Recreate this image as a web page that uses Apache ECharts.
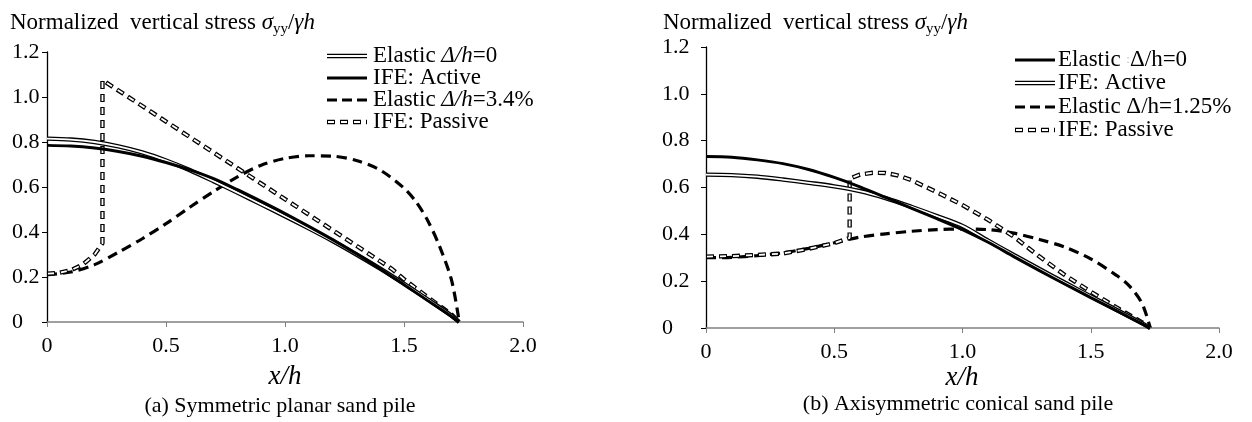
<!DOCTYPE html>
<html>
<head>
<meta charset="utf-8">
<script src="https://cdn.jsdelivr.net/npm/echarts@6/dist/echarts.min.js"></script>
<style>
  html, body { margin: 0; padding: 0; background: #fff; }
  #chart { width: 1252px; height: 422px; }
</style>
</head>
<body>
<div id="chart"></div>
<script>
// ---- Data: normalized vertical stress under sand piles ----
const xTickValues = [0, 0.5, 1.0, 1.5, 2.0];
const yTickValues = [0, 0.2, 0.4, 0.6, 0.8, 1.0, 1.2];

// (a) symmetric planar sand pile
const planarX        = [0, 0.1, 0.2, 0.3, 0.4, 0.5, 0.6, 0.7, 0.8, 0.9, 1.0, 1.1, 1.2, 1.3, 1.4, 1.5, 1.6, 1.7, 1.732];
const planarElastic0 = [0.815, 0.811, 0.800, 0.781, 0.754, 0.718, 0.675, 0.626, 0.575, 0.523, 0.470, 0.416, 0.360, 0.300, 0.237, 0.170, 0.100, 0.028, 0];
const planarActive   = [0.785, 0.782, 0.773, 0.758, 0.737, 0.709, 0.676, 0.637, 0.588, 0.536, 0.482, 0.425, 0.366, 0.303, 0.236, 0.166, 0.095, 0.024, 0];
const planarShiftX   = [0, 0.1, 0.2, 0.3, 0.4, 0.5, 0.6, 0.7, 0.8, 0.9, 1.0, 1.1, 1.2, 1.3, 1.4, 1.5, 1.55, 1.6, 1.65, 1.7, 1.732];
const planarShift    = [0.210, 0.222, 0.255, 0.310, 0.370, 0.437, 0.510, 0.580, 0.645, 0.697, 0.727, 0.739, 0.737, 0.718, 0.675, 0.595, 0.535, 0.450, 0.335, 0.185, 0];
const planarPassiveX = [0, 0.05, 0.1, 0.15, 0.2, 0.233, 0.233, 0.4, 0.6, 0.8, 1.0, 1.2, 1.4, 1.45, 1.5, 1.6, 1.7, 1.732];
const planarPassive  = [0.215, 0.218, 0.230, 0.255, 0.300, 0.350, 1.075, 0.960, 0.822, 0.684, 0.546, 0.408, 0.270, 0.235, 0.190, 0.110, 0.033, 0];

// (b) axisymmetric conical sand pile
const conicalX        = [0, 0.1, 0.2, 0.3, 0.4, 0.5, 0.6, 0.7, 0.8, 0.9, 1.0, 1.1, 1.2, 1.3, 1.4, 1.5, 1.6, 1.7, 1.732];
const conicalElastic0 = [0.732, 0.729, 0.718, 0.702, 0.677, 0.643, 0.603, 0.558, 0.512, 0.467, 0.420, 0.366, 0.305, 0.245, 0.187, 0.130, 0.074, 0.018, 0];
const conicalActive   = [0.655, 0.653, 0.646, 0.634, 0.620, 0.605, 0.585, 0.555, 0.518, 0.478, 0.436, 0.373, 0.312, 0.252, 0.193, 0.135, 0.078, 0.020, 0];
const conicalShiftX   = [0, 0.1, 0.2, 0.3, 0.4, 0.5, 0.6, 0.7, 0.8, 0.9, 1.0, 1.1, 1.2, 1.3, 1.4, 1.5, 1.6, 1.65, 1.7, 1.732];
const conicalShift    = [0.300, 0.302, 0.309, 0.321, 0.340, 0.364, 0.388, 0.402, 0.413, 0.420, 0.423, 0.420, 0.405, 0.378, 0.345, 0.295, 0.225, 0.180, 0.105, 0];
const conicalPassiveX = [0, 0.1, 0.2, 0.3, 0.4, 0.5, 0.56, 0.56, 0.6, 0.65, 0.7, 0.75, 0.8, 0.9, 1.0, 1.1, 1.2, 1.3, 1.4, 1.5, 1.6, 1.7, 1.732];
const conicalPassive  = [0.305, 0.307, 0.312, 0.318, 0.338, 0.362, 0.385, 0.638, 0.655, 0.663, 0.662, 0.651, 0.632, 0.580, 0.525, 0.462, 0.390, 0.305, 0.225, 0.155, 0.088, 0.024, 0];

// ---- Styling helpers ----
const FONT = 'Liberation Serif';
const pairs = (xs, ys) => xs.map((x, i) => [x, ys[i]]);
const base = (g, xs, ys, smooth) => ({
  type: 'line', xAxisIndex: g, yAxisIndex: g, data: pairs(xs, ys),
  smooth: smooth, symbol: 'none', silent: true, animation: false
});
function solidLine(g, xs, ys) {
  return [Object.assign(base(g, xs, ys, 0.3), { lineStyle: { color: '#000', width: 3 } })];
}
function dashedLine(g, xs, ys) {
  return [Object.assign(base(g, xs, ys, 0.3), { lineStyle: { color: '#000', width: 3.2, type: [10, 6] } })];
}
// double-stroke line: black casing with a thin white core
function hollowLine(g, xs, ys, dashed, smooth) {
  return [
    Object.assign(base(g, xs, ys, smooth), {
      lineStyle: { color: '#000', width: 4.4, type: dashed ? [8, 5] : 'solid' }
    }),
    Object.assign(base(g, xs, ys, smooth), {
      lineStyle: { color: '#fff', width: 1.8, type: dashed ? [6, 7] : 'solid', dashOffset: dashed ? -1 : 0 }
    })
  ];
}

const tickFmt = v => (v === 0 ? '0' : v.toFixed(1));
function xAxisOf(g) {
  return {
    type: 'value', gridIndex: g, min: 0, max: 2, interval: 0.5,
    axisLine: { show: true, lineStyle: { color: '#808080', width: 1.5 } },
    axisTick: { show: true, length: 5, lineStyle: { color: '#808080' } },
    splitLine: { show: false },
    axisLabel: { formatter: tickFmt, color: '#000', fontFamily: FONT, fontSize: 22, margin: 13 }
  };
}
function yAxisOf(g, labelMargin) {
  return {
    type: 'value', gridIndex: g, min: 0, max: 1.2, interval: 0.2,
    axisLine: { show: true, lineStyle: { color: '#000', width: 1.3 } },
    axisTick: { show: true, length: 5, lineStyle: { color: '#000' } },
    splitLine: { show: false },
    axisLabel: { formatter: tickFmt, color: '#000', fontFamily: FONT, fontSize: 22,
                 align: 'left', margin: labelMargin }
  };
}

// ---- Legend & annotation drawing ----
function legendSwatch(kind, x, y, len) {
  const seg = (stroke, w, dash, off) => ({
    type: 'line', silent: true,
    shape: { x1: x, y1: y, x2: x + len, y2: y },
    style: { stroke: stroke, lineWidth: w, lineDash: dash || null, lineDashOffset: off || 0 }
  });
  if (kind === 'solid') return [seg('#000', 3)];
  if (kind === 'dashed') return [seg('#000', 3.2, [10, 5])];
  if (kind === 'hollow') return [seg('#000', 4.4), seg('#fff', 1.8)];
  return [seg('#000', 4.4, [8, 5]), seg('#fff', 1.8, [6, 7], -1)];
}
const LEG = 23;
const richBase = {
  n: { fontFamily: FONT, fontSize: LEG, fill: '#000' },
  i: { fontFamily: FONT, fontSize: LEG, fontStyle: 'italic', fill: '#000' },
  f: { fontFamily: FONT, fontSize: 13, fill: '#bbb' }
};
function legendText(text, x, y) {
  return {
    type: 'text', silent: true, x: x, y: y,
    style: { text: text, rich: richBase, fontFamily: FONT, fontSize: LEG,
             verticalAlign: 'middle', align: 'left', fill: '#000' }
  };
}
function buildLegend(entries, lineX, textX, rows) {
  const out = [];
  entries.forEach((e, i) => {
    out.push(...legendSwatch(e.kind, lineX, rows[i], 40));
    out.push(legendText(e.text, textX, rows[i]));
  });
  return out;
}
const legendA = [
  { kind: 'hollow',       text: '{n|Elastic }{i|Δ/h}{n|=0}' },
  { kind: 'solid',        text: '{n|IFE: Active}' },
  { kind: 'dashed',       text: '{n|Elastic }{i|Δ/h}{n|=3.4%}' },
  { kind: 'hollowDashed', text: '{n|IFE: Passive}' }
];
const legendB = [
  { kind: 'solid',        text: '{n|Elastic }{f|:}{n|Δ/h=0}' },
  { kind: 'hollow',       text: '{n|IFE: Active}' },
  { kind: 'dashed',       text: '{n|Elastic Δ/h=1.25%}' },
  { kind: 'hollowDashed', text: '{n|IFE: Passive}' }
];

function yTitle(x) {
  return {
    type: 'text', silent: true, x: x, y: 23,
    style: {
      text: '{n|Normalized  vertical stress }{i|σ}{s|yy}{n|/}{i|γh}',
      rich: {
        n: { fontFamily: FONT, fontSize: 23, lineHeight: 28, fill: '#000' },
        i: { fontFamily: FONT, fontSize: 23, lineHeight: 28, fontStyle: 'italic', fill: '#000' },
        s: { fontFamily: FONT, fontSize: 15, lineHeight: 13, verticalAlign: 'bottom', fill: '#000' }
      },
      verticalAlign: 'middle', align: 'left'
    }
  };
}
function centerText(text, x, y, size, italic) {
  return {
    type: 'text', silent: true, x: x, y: y,
    style: { text: text, fontFamily: FONT, fontSize: size, fontStyle: italic ? 'italic' : 'normal',
             fill: '#000', align: 'center', verticalAlign: 'middle' }
  };
}

const chart = echarts.init(document.getElementById('chart'), null, { renderer: 'canvas' });
chart.setOption({
  animation: false,
  backgroundColor: '#fff',
  textStyle: { fontFamily: FONT },
  grid: [
    { left: 47, top: 52, width: 476, height: 270 },
    { left: 706, top: 47, width: 513, height: 281 }
  ],
  xAxis: [xAxisOf(0), xAxisOf(1)],
  yAxis: [yAxisOf(0, 35), yAxisOf(1, 44)],
  series: [
    ...dashedLine(0, planarShiftX, planarShift),
    ...hollowLine(0, planarPassiveX, planarPassive, true, false),
    ...hollowLine(0, planarX, planarElastic0, false, 0.3),
    ...solidLine(0, planarX, planarActive),

    ...dashedLine(1, conicalShiftX, conicalShift),
    ...hollowLine(1, conicalPassiveX, conicalPassive, true, false),
    ...hollowLine(1, conicalX, conicalActive, false, 0.3),
    ...solidLine(1, conicalX, conicalElastic0)
  ],
  graphic: [
    yTitle(10),
    yTitle(663),
    ...buildLegend(legendA, 327, 373, [56, 78, 100, 122]),
    ...buildLegend(legendB, 1015, 1058, [60, 83, 107, 130]),
    centerText('x/h', 285, 377, 27, true),
    centerText('x/h', 962, 378, 27, true),
    centerText('(a) Symmetric planar sand pile', 280, 406, 22, false),
    centerText('(b) Axisymmetric conical sand pile', 958, 404, 22, false)
  ]
});
</script>
</body>
</html>
